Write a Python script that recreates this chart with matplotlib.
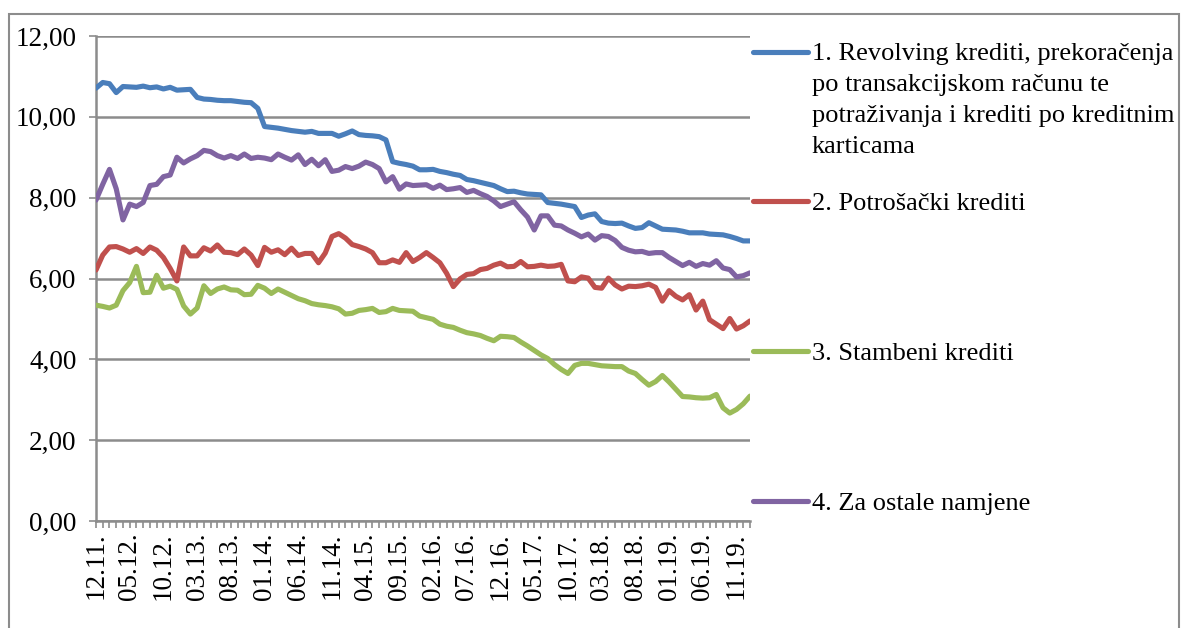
import matplotlib.pyplot as plt
import matplotlib.patches as patches
from matplotlib.lines import Line2D
import numpy as np

plt.rcParams['font.family'] = ['Liberation Serif', 'DejaVu Serif']

# monthly data 12.11 - 01.20
revolving = [10.71, 10.85, 10.82, 10.60, 10.75, 10.74, 10.73, 10.76, 10.72, 10.74,
             10.69, 10.73, 10.66, 10.67, 10.68, 10.48, 10.44, 10.43, 10.41, 10.40,
             10.40, 10.38, 10.36, 10.35, 10.21, 9.76, 9.74, 9.72, 9.69, 9.66,
             9.64, 9.62, 9.64, 9.59, 9.59, 9.59, 9.52, 9.58, 9.65, 9.56,
             9.54, 9.53, 9.51, 9.43, 8.89, 8.85, 8.82, 8.78, 8.69, 8.69,
             8.70, 8.65, 8.62, 8.58, 8.55, 8.45, 8.42, 8.38, 8.34, 8.30,
             8.22, 8.15, 8.16, 8.12, 8.09, 8.08, 8.07, 7.88, 7.86, 7.84,
             7.81, 7.78, 7.51, 7.57, 7.60, 7.41, 7.37, 7.36, 7.37, 7.30,
             7.24, 7.26, 7.38, 7.30, 7.22, 7.21, 7.20, 7.17, 7.13, 7.13,
             7.13, 7.10, 7.09, 7.08, 7.04, 6.99, 6.93, 6.93]
potrosacki = [6.21, 6.58, 6.78, 6.79, 6.73, 6.65, 6.74, 6.62, 6.78, 6.70,
              6.52, 6.25, 5.94, 6.78, 6.56, 6.56, 6.76, 6.68, 6.83, 6.65,
              6.64, 6.59, 6.73, 6.58, 6.32, 6.77, 6.65, 6.71, 6.59, 6.75,
              6.57, 6.62, 6.62, 6.39, 6.63, 7.04, 7.11, 7.00, 6.84, 6.79,
              6.73, 6.64, 6.39, 6.39, 6.46, 6.40, 6.64, 6.42, 6.52, 6.64,
              6.52, 6.39, 6.13, 5.80, 5.99, 6.10, 6.12, 6.22, 6.25, 6.33,
              6.38, 6.29, 6.30, 6.42, 6.29, 6.30, 6.33, 6.30, 6.31, 6.35,
              5.94, 5.92, 6.04, 6.01, 5.78, 5.76, 6.01, 5.84, 5.74, 5.81,
              5.80, 5.82, 5.86, 5.78, 5.44, 5.70, 5.56, 5.47, 5.60, 5.22,
              5.44, 4.98, 4.87, 4.76, 5.01, 4.75, 4.83, 4.95]
stambeni = [5.34, 5.31, 5.27, 5.34, 5.70, 5.90, 6.30, 5.65, 5.66, 6.08,
            5.76, 5.81, 5.73, 5.32, 5.12, 5.27, 5.82, 5.63, 5.74, 5.79,
            5.72, 5.71, 5.60, 5.61, 5.83, 5.76, 5.63, 5.74, 5.66, 5.58,
            5.50, 5.45, 5.38, 5.35, 5.33, 5.30, 5.25, 5.12, 5.14, 5.21,
            5.23, 5.26, 5.16, 5.18, 5.26, 5.21, 5.20, 5.19, 5.07, 5.03,
            4.99, 4.87, 4.82, 4.79, 4.72, 4.66, 4.63, 4.59, 4.52, 4.46,
            4.57, 4.56, 4.54, 4.43, 4.33, 4.22, 4.11, 4.02, 3.87, 3.75,
            3.65, 3.85, 3.90, 3.90, 3.87, 3.84, 3.83, 3.82, 3.82, 3.71,
            3.65, 3.50, 3.36, 3.45, 3.60, 3.44, 3.26, 3.08, 3.07, 3.05,
            3.04, 3.05, 3.13, 2.80, 2.67, 2.76, 2.90, 3.09]
ostalo = [7.94, 8.33, 8.70, 8.22, 7.45, 7.84, 7.78, 7.88, 8.30, 8.33,
          8.52, 8.56, 9.00, 8.86, 8.96, 9.04, 9.17, 9.14, 9.04, 8.98,
          9.04, 8.97, 9.08, 8.97, 9.00, 8.98, 8.94, 9.08, 9.00, 8.93,
          9.06, 8.82, 8.95, 8.79, 8.94, 8.65, 8.68, 8.77, 8.72, 8.78,
          8.88, 8.82, 8.72, 8.39, 8.52, 8.21, 8.34, 8.30, 8.31, 8.32,
          8.23, 8.31, 8.20, 8.22, 8.25, 8.13, 8.18, 8.10, 8.03, 7.92,
          7.78, 7.84, 7.90, 7.70, 7.52, 7.20, 7.55, 7.55, 7.32, 7.30,
          7.20, 7.12, 7.03, 7.10, 6.95, 7.06, 7.04, 6.94, 6.77, 6.70,
          6.66, 6.67, 6.62, 6.64, 6.64, 6.52, 6.42, 6.32, 6.40, 6.30,
          6.37, 6.33, 6.44, 6.26, 6.22, 6.04, 6.07, 6.14]

tick_labels = ['12.11.', '05.12.', '10.12.', '03.13.', '08.13.', '01.14.', '06.14.',
               '11.14.', '04.15.', '09.15.', '02.16.', '07.16.', '12.16.', '05.17.',
               '10.17.', '03.18.', '08.18.', '01.19.', '06.19.', '11.19.']
label_step = 5

series_names = ['1. Revolving krediti, prekoračenja\npo transakcijskom računu te\n'
                'potraživanja i krediti po kreditnim\nkarticama',
                '2. Potrošački krediti',
                '3. Stambeni krediti',
                '4. Za ostale namjene']
colors = ['#4a7ebb', '#c0504d', '#9bbb59', '#8064a2']

W, H = 1184, 628
FS = 19.5
LFS = 19
fig = plt.figure(figsize=(W / 100, H / 100), dpi=100)
ax = fig.add_axes([96 / W, 1 - 521 / H, (750 - 96) / W, (521 - 36) / H])

x = np.arange(len(revolving))
for vals, c in zip([revolving, potrosacki, stambeni, ostalo], colors):
    ax.plot(x, vals, color=c, lw=3.7, solid_capstyle='round', solid_joinstyle='round', zorder=3)

grid_c = '#8c8c8c'
ax.set_xlim(0, len(x) - 1)
ax.set_ylim(0, 12)
ax.set_yticks(np.arange(0, 13, 2))
ax.set_yticklabels([f'{v:.2f}'.replace('.', ',') for v in np.arange(0, 13, 2)])
ax.set_xticks(np.arange(0, len(x), label_step)[:len(tick_labels)])
ax.set_xticklabels(tick_labels, rotation=90)
ax.set_xticks(x, minor=True)
ax.grid(axis='y', color=grid_c, lw=1.8)
for s in ['top', 'right']:
    ax.spines[s].set_visible(False)
for s in ['left', 'bottom']:
    ax.spines[s].set_color(grid_c)
    ax.spines[s].set_linewidth(1.8)
ax.tick_params(axis='both', which='both', color=grid_c, width=1.2, length=5, labelsize=FS)
ax.tick_params(axis='y', pad=9)
ax.tick_params(axis='x', pad=3)

# legend drawn beside the plot
legend_y = [61, 210, 360, 510]
for i, (name, c, yb) in enumerate(zip(series_names, colors, legend_y)):
    yc = yb - 9
    fig.add_artist(Line2D([753 / W, 808 / W], [1 - yc / H, 1 - yc / H], color=c, lw=3.7,
                          solid_capstyle='round'))
    if '\n' in name:
        fig.text(812 / W, 1 - (yb - 18) / H, name, fontsize=LFS, va='top', ha='left',
                 linespacing=1.52)
    else:
        fig.text(812 / W, 1 - yb / H, name, fontsize=LFS, va='baseline', ha='left')

# outer frame
fig.add_artist(patches.Rectangle((9 / W, -0.1), (1179 - 9) / W, 1.1 - 14 / H,
                                 transform=fig.transFigure, fill=False,
                                 edgecolor='#8c8c8c', lw=1.5))

fig.savefig('out.png', dpi=100)
